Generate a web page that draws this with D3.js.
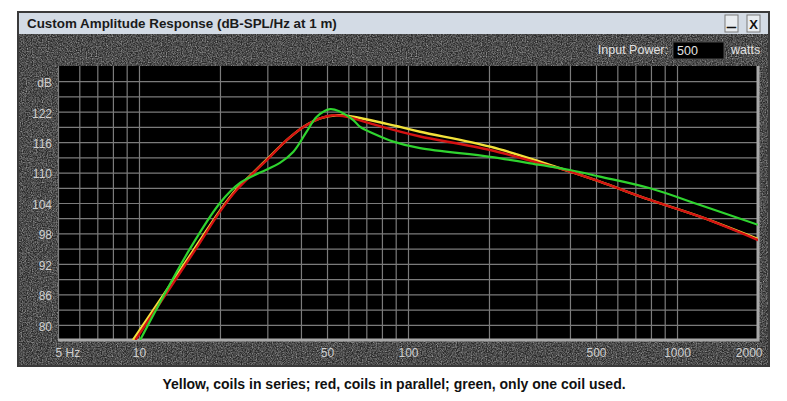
<!DOCTYPE html>
<html lang="en">
  <head>
    <meta charset="UTF-8" />
    <title>Custom Amplitude Response</title>
    <script src="https://d3js.org/d3.v7.min.js"></script>
    <style>
      body {
        margin: 0;
        background: #fff;
      }
      .chart text {
        font-family: "Liberation Sans", Arial, sans-serif;
      }
    </style>
  </head>
  <body>
    <div class="chart"></div>
  </body>

  <script>
    // frequency response (Hz, dB-SPL)
    var seriesFreq = [9.5, 16, 20, 23.1, 26.6, 30.7, 35.4, 40.8, 47.1, 54.3, 62.6, 83.4, 93.4, 110.9, 202, 310, 367, 400, 517, 794, 1218, 2000];
    var seriesDb = [77, 94.8, 102.5, 106.8, 110, 113.2, 116.4, 119.0, 120.7, 121.3, 121.0, 119.6, 119.0, 118.05, 115.1, 112.15, 110.85, 110.2, 108.2, 104.6, 101.3, 96.9];

    var parallelFreq = [9.7, 16.2, 20, 23.1, 26.6, 30.7, 35.4, 40.8, 47.1, 52.8, 59.2, 72.3, 93.4, 110.9, 202, 310, 400, 517, 794, 1218, 2000];
    var parallelDb = [77, 94.8, 102.3, 106.6, 109.9, 113.1, 116.4, 119.0, 120.7, 121.3, 121.0, 119.7, 118.05, 117.1, 114.45, 111.8, 110.2, 108.2, 104.6, 101.3, 96.7];

    var oneCoilFreq = [10.1, 15.4, 20, 23.8, 28.2, 33.4, 37.5, 42, 45.8, 51.3, 55.9, 62.6, 66.4, 74.3, 88.2, 110.9, 202, 310, 400, 517, 794, 1218, 2000];
    var oneCoilDb = [77, 94.8, 104, 108.0, 110.0, 111.9, 114.1, 118.05, 121.0, 122.5, 122.0, 120.35, 119.0, 117.7, 116.1, 114.8, 113.1, 111.5, 110.5, 109.2, 106.9, 103.6, 99.7];

    var gridFreq = [5, 6, 7, 8, 9, 10, 20, 30, 40, 50, 60, 70, 80, 90, 100, 200, 300, 400, 500, 600, 700, 800, 900, 1000, 2000];
    var labelFreq = [5, 10, 50, 100, 500, 1000, 2000];
    var gridDb = d3.range(80, 129, 3);
    var labelDb = [128, 122, 116, 110, 104, 98, 92, 86, 80];

    var W = 787, H = 401;
    var plot = { left: 58, top: 66, right: 758, bottom: 340 };

    var svg = d3
      .select(".chart")
      .append("svg")
      .attr("width", W)
      .attr("height", H);

    var defs = svg.append("defs");
    var stone = defs
      .append("filter")
      .attr("id", "stone")
      .attr("x", 0)
      .attr("y", 0)
      .attr("width", "100%")
      .attr("height", "100%")
      .attr("color-interpolation-filters", "sRGB");
    stone
      .append("feTurbulence")
      .attr("type", "fractalNoise")
      .attr("baseFrequency", 0.8)
      .attr("numOctaves", 3)
      .attr("seed", 7);
    stone
      .append("feColorMatrix")
      .attr("type", "matrix")
      .attr("values", "0.9 0.9 0 0 -0.68  0.9 0.9 0 0 -0.68  0.9 0.9 0 0 -0.68  0 0 0 0 0.6");

    defs
      .append("clipPath")
      .attr("id", "plotClip")
      .append("rect")
      .attr("x", plot.left)
      .attr("y", plot.top)
      .attr("width", plot.right - plot.left)
      .attr("height", plot.bottom - plot.top);

    // window frame
    svg.append("rect")
      .attr("x", 18).attr("y", 12).attr("width", 751).attr("height", 354)
      .attr("fill", "#6a6a6a").attr("stroke", "#3a3a3a").attr("stroke-width", 2);
    svg.append("rect")
      .attr("x", 19).attr("y", 34).attr("width", 749).attr("height", 331)
      .attr("filter", "url(#stone)");

    // title bar
    svg.append("rect")
      .attr("x", 19).attr("y", 13).attr("width", 749).attr("height", 21)
      .attr("fill", "#d3dbe5");
    svg.append("text")
      .attr("x", 27).attr("y", 28)
      .attr("font-size", 13.4).attr("font-weight", "bold").attr("fill", "#1a1a1a")
      .text("Custom Amplitude Response (dB-SPL/Hz at 1 m)");

    var buttons = [{ x: 725, t: "_", ty: 26, fs: 15 }, { x: 747, t: "X", ty: 29, fs: 13 }];
    buttons.forEach(function (b) {
      svg.append("rect")
        .attr("x", b.x).attr("y", 15).attr("width", 13).attr("height", 17)
        .attr("fill", "#e8ecf0").attr("stroke", "#7a7a7a");
      svg.append("text")
        .attr("x", b.x + 6.5).attr("y", b.ty)
        .attr("text-anchor", "middle")
        .attr("font-size", b.fs).attr("font-weight", "bold").attr("fill", "#111")
        .attr("stroke", "#111").attr("stroke-width", b.t === "_" ? 0.8 : 0)
        .text(b.t);
    });

    // input power box
    svg.append("text")
      .attr("x", 668).attr("y", 54)
      .attr("text-anchor", "end")
      .attr("font-size", 12.5).attr("fill", "#e2e2e2")
      .text("Input Power:");
    svg.append("rect")
      .attr("x", 673).attr("y", 42).attr("width", 51).attr("height", 17)
      .attr("fill", "#000").attr("stroke", "#4a4a4a");
    svg.append("text")
      .attr("x", 677).attr("y", 55)
      .attr("font-size", 12.5).attr("fill", "#e2e2e2")
      .text("500");
    svg.append("text")
      .attr("x", 731).attr("y", 54)
      .attr("font-size", 12.5).attr("fill", "#e2e2e2")
      .text("watts");

    var x = d3.scaleLog().domain([5, 2000]).range([plot.left, plot.right]);
    var y = d3.scaleLinear().domain([77, 131]).range([plot.bottom, plot.top]);

    // plot background
    svg.append("rect")
      .attr("x", plot.left).attr("y", plot.top)
      .attr("width", plot.right - plot.left).attr("height", plot.bottom - plot.top)
      .attr("fill", "#000");

    // grid
    var xGrid = svg.append("g")
      .attr("transform", "translate(0," + plot.bottom + ")")
      .call(d3.axisBottom(x).tickValues(gridFreq).tickSize(-(plot.bottom - plot.top)).tickFormat(""));
    var yGrid = svg.append("g")
      .attr("transform", "translate(" + plot.left + ",0)")
      .call(d3.axisLeft(y).tickValues(gridDb).tickSize(-(plot.right - plot.left)).tickFormat(""));
    [xGrid, yGrid].forEach(function (g) {
      g.select(".domain").remove();
      g.selectAll("line").attr("stroke", "#7b7b7b").attr("stroke-width", 1.2);
    });

    // sunken frame edge
    svg.append("path")
      .attr("d", "M" + plot.right + "," + plot.top + "V" + plot.bottom + "H" + plot.left)
      .attr("fill", "none").attr("stroke", "#a8a8a8").attr("stroke-width", 3);

    // axis labels
    var xLab = svg.append("g")
      .attr("transform", "translate(0," + plot.bottom + ")")
      .call(d3.axisBottom(x).tickValues(labelFreq).tickSize(0).tickPadding(8)
        .tickFormat(function (d) { return d === 5 ? "5 Hz" : d; }));
    xLab.select(".domain").remove();
    xLab.selectAll("text")
      .attr("font-size", 12).attr("fill", "#cfcfcf").attr("font-family", "Liberation Sans, Arial, sans-serif")
      .attr("text-anchor", function (d) { return d === 5 ? "start" : d === 2000 ? "end" : "middle"; })
      .attr("dx", function (d) { return d === 5 ? -3 : d === 2000 ? 4 : 0; });

    var yLab = svg.append("g")
      .attr("transform", "translate(" + plot.left + ",0)")
      .call(d3.axisLeft(y).tickValues(labelDb).tickSize(0).tickPadding(6)
        .tickFormat(function (d) { return d === 128 ? "dB" : d; }));
    yLab.select(".domain").remove();
    yLab.selectAll("text")
      .attr("font-size", 12).attr("fill", "#cfcfcf").attr("font-family", "Liberation Sans, Arial, sans-serif")
      .attr("dy", "0.45em");

    // curves
    var line = d3.line()
      .x(function (d) { return x(d[0]); })
      .y(function (d) { return y(d[1]); })
      .curve(d3.curveCatmullRom.alpha(0.5));

    var curves = [
      { f: seriesFreq, v: seriesDb, color: "#f2e23a", w: 2.4 },
      { f: parallelFreq, v: parallelDb, color: "#d41212", w: 2.4 },
      { f: oneCoilFreq, v: oneCoilDb, color: "#2fd42f", w: 2.2 }
    ];

    svg.append("g")
      .attr("clip-path", "url(#plotClip)")
      .selectAll("path")
      .data(curves)
      .enter()
      .append("path")
      .attr("fill", "none")
      .attr("stroke", function (d) { return d.color; })
      .attr("stroke-width", function (d) { return d.w; })
      .attr("d", function (d) {
        return line(d.f.map(function (f, i) { return [f, d.v[i]]; }));
      });

    // caption
    svg.append("text")
      .attr("x", 394).attr("y", 389)
      .attr("text-anchor", "middle")
      .attr("font-size", 14).attr("font-weight", "bold").attr("fill", "#111")
      .text("Yellow, coils in series; red, coils in parallel; green, only one coil used.");
  </script>
</html>
